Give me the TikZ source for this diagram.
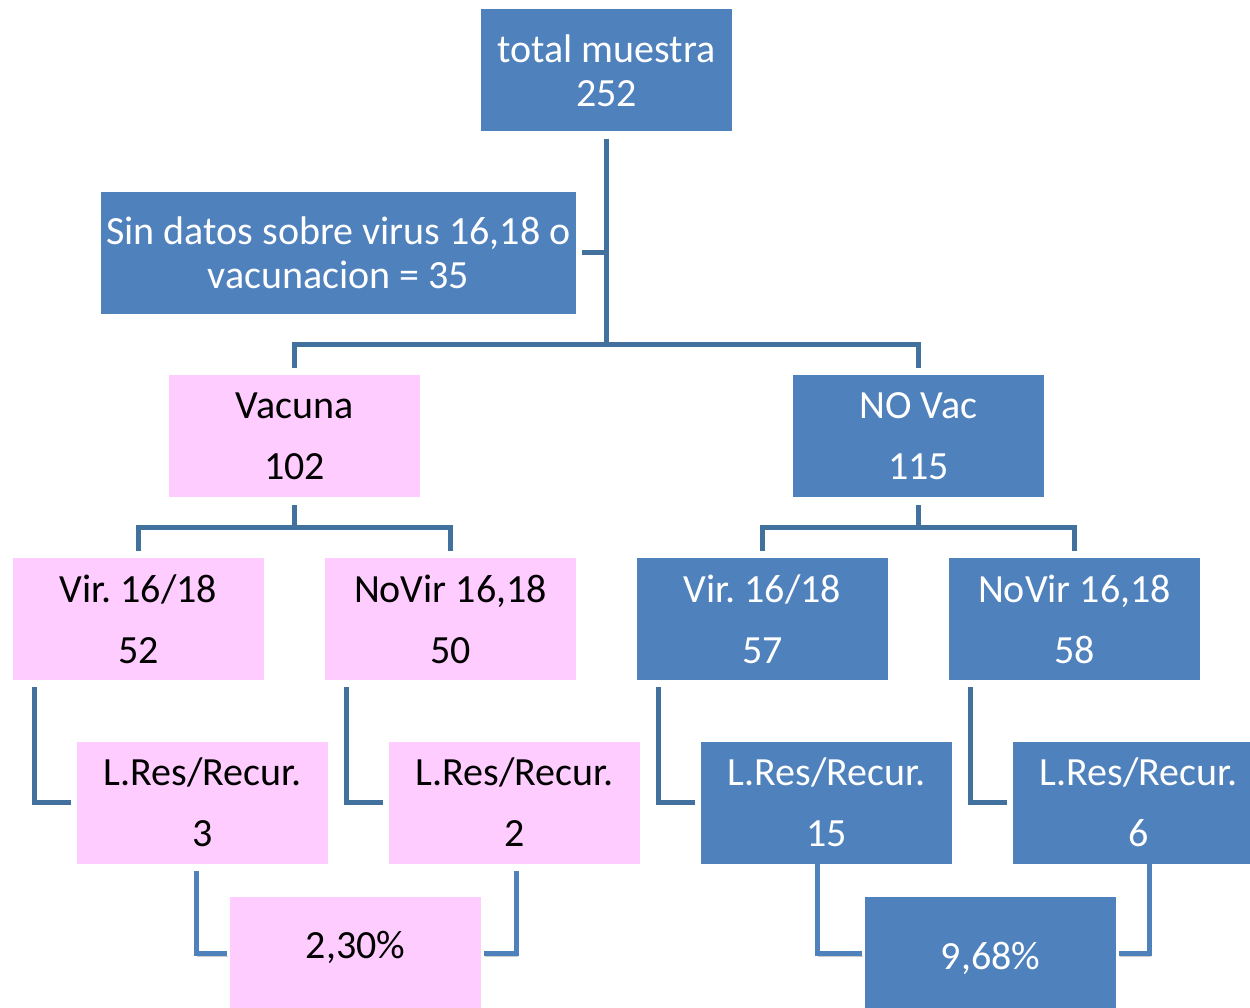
\documentclass[tikz,border=0pt]{standalone}
\usepackage{fontspec}
\setmainfont{Carlito}
\usetikzlibrary{calc}
\definecolor{boxblue}{HTML}{4F81BD}
\definecolor{boxpink}{HTML}{FFCCFF}
\definecolor{linkblue}{HTML}{41719C}
\frenchspacing
\tikzset{
bbox/.style={fill=boxblue,text=white,minimum width=251pt,minimum height=122pt,inner sep=0pt,align=center,font=\fontsize{40}{44}\selectfont},
pbox/.style={bbox,fill=boxpink,text=black},
tall/.style={font=\fontsize{40}{61}\selectfont},
conn/.style={draw=linkblue,line width=5pt},
lconn/.style={draw=boxblue,line width=5pt,preaction={draw=black,opacity=0.2,transform canvas={xshift=1pt,yshift=-3pt}}}
}
\begin{document}
\begin{tikzpicture}[x=1pt,y=-1pt]
\useasboundingbox(0,0)rectangle(1250,1008);
\clip(0,0)rectangle(1250,1008);
\node[bbox](tot) at (606.5,70.5){total muestra\\252};
\node[bbox,minimum width=475pt](sin) at (338.5,253){Sin datos sobre virus 16,18 o\\vacunacion = 35};
\node[pbox,tall](vac) at (294.5,436){Vacuna\\102};
\node[bbox,tall](nov) at (918.5,436){NO Vac\\115};
\node[pbox,tall](vp) at (138.5,619){Vir. 16/18\\52};
\node[pbox,tall](np) at (450.5,619){NoVir 16,18\\50};
\node[bbox,tall](vb) at (762.5,619){Vir. 16/18\\57};
\node[bbox,tall](nb) at (1074.5,619){NoVir 16,18\\58};
\node[pbox,tall](lp3) at (202.5,802.5){L.Res/Recur.\\3};
\node[pbox,tall](lp2) at (514.5,802.5){L.Res/Recur.\\2};
\node[bbox,tall](lb15) at (826.5,802.5){L.Res/Recur.\\15};
\node[bbox,tall](lb6) at (1138.5,802.5){L.Res/Recur.\\6};
\node[pbox,text depth=27pt](pctp) at (355.5,958){2,30\%};
\node[bbox](pctb) at (990.5,958){9,68\%};
\coordinate(split) at ($(tot.south)+(0,212.5)$);
\coordinate(vsplit) at ($(vac.south)+(0,30)$);
\coordinate(nsplit) at ($(nov.south)+(0,30)$);
\draw[conn]($(tot.south)+(0,7)$)--(split);
\draw[conn]($(sin.east)+(6,0)$)--(sin.east-|split);
\draw[conn]($(vac.north)+(0,-7)$)|-(split)-|($(nov.north)+(0,-7)$);
\draw[conn]($(vac.south)+(0,8)$)--(vsplit);
\draw[conn]($(vp.north)+(0,-7)$)|-(vsplit)-|($(np.north)+(0,-7)$);
\draw[conn]($(nov.south)+(0,8)$)--(nsplit);
\draw[conn]($(vb.north)+(0,-7)$)|-(nsplit)-|($(nb.north)+(0,-7)$);
\draw[conn]($(vp.south west)+(22,7)$)|-($(lp3.west)+(-6,0)$);
\draw[conn]($(np.south west)+(22,7)$)|-($(lp2.west)+(-6,0)$);
\draw[conn]($(vb.south west)+(22,7)$)|-($(lb15.west)+(-6,0)$);
\draw[conn]($(nb.south west)+(22,7)$)|-($(lb6.west)+(-6,0)$);
\draw[lconn]($(lp3.south)+(-6.5,7)$)|-($(pctp.west)+(-3,-5)$);
\draw[lconn]($(lp2.south)+(1.5,7)$)|-($(pctp.east)+(3,-5)$);
\draw[lconn]($(lb15.south)+(-9.5,-3)$)|-($(pctb.west)+(-3,-5)$);
\draw[lconn]($(lb6.south)+(10.5,-3)$)|-($(pctb.east)+(3,-5)$);
\end{tikzpicture}
\end{document}
